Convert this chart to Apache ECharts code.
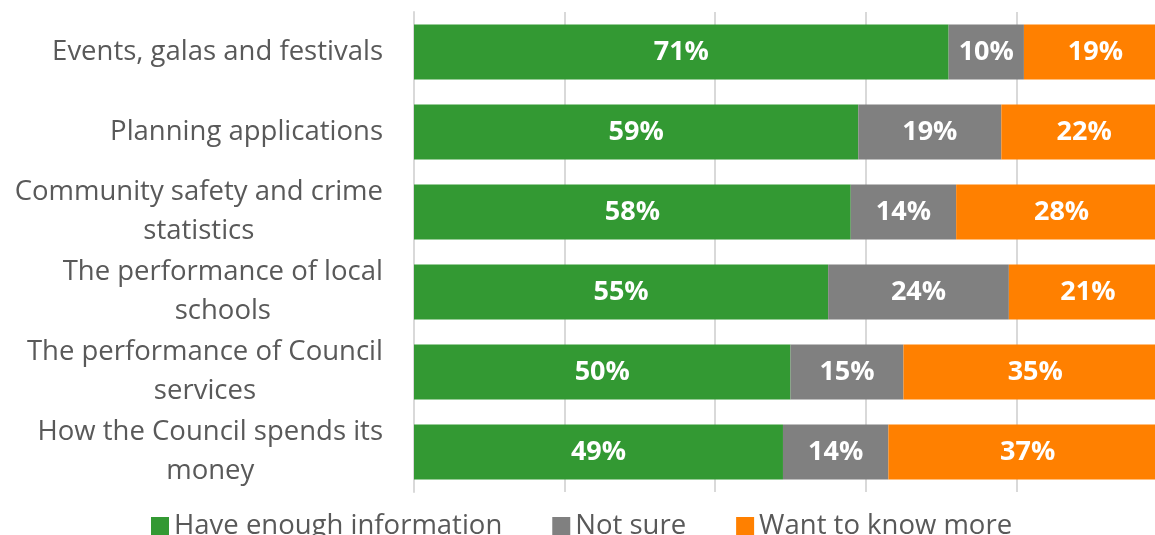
<!DOCTYPE html>
<html>
<head>
<meta charset="utf-8">
<script src="https://cdn.jsdelivr.net/npm/echarts@6/dist/echarts.min.js"></script>
<style>
  html, body { margin: 0; padding: 0; background: #ffffff; overflow: hidden; }
  #chart { width: 1180px; height: 535px; }
</style>
</head>
<body>
<div id="chart"></div>
<script>
// Survey topics, top to bottom
const categories = [
  'Events, galas and festivals',
  'Planning applications',
  'Community safety and crime\nstatistics',
  'The performance of local\nschools',
  'The performance of Council\nservices',
  'How the Council spends its\nmoney'
];
const seriesNames = ['Have enough information', 'Not sure', 'Want to know more'];
const haveEnough = [71, 59, 58, 55, 50, 49];
const notSure = [10, 19, 14, 24, 15, 14];
const wantMore = [19, 22, 28, 21, 35, 37];
const colors = ['#339933', '#808080', '#FF8000'];

const FONT = '"Open Sans", sans-serif';
const TEXT_SIZE = 27.5;

const chart = echarts.init(document.getElementById('chart'), null, { renderer: 'canvas' });

function barSeries(name, data, color) {
  return {
    name: name,
    type: 'bar',
    stack: 'total',
    barWidth: 55,
    data: data,
    itemStyle: { color: color },
    label: {
      show: true,
      position: 'inside',
      formatter: '{c}%',
      color: '#ffffff',
      fontFamily: FONT,
      fontWeight: 'bold',
      fontSize: 27
    }
  };
}

chart.setOption({
  animation: false,
  color: colors,
  grid: { left: 414, top: 12, width: 753, height: 480, containLabel: false },
  legend: {
    left: 146,
    top: 507,
    itemWidth: 18,
    itemHeight: 18,
    itemGap: 50,
    icon: 'rect',
    textStyle: { color: '#595959', fontFamily: FONT, fontSize: TEXT_SIZE },
    data: seriesNames
  },
  xAxis: {
    type: 'value',
    min: 0,
    max: 100,
    interval: 20,
    axisLine: { show: false },
    axisTick: { show: false },
    axisLabel: { show: false },
    splitLine: { show: true, lineStyle: { color: '#d9d9d9', width: 2 } }
  },
  yAxis: {
    type: 'category',
    inverse: true,
    data: categories,
    axisLine: { show: true, lineStyle: { color: '#d9d9d9', width: 2 } },
    axisTick: { show: false },
    axisLabel: {
      color: '#595959',
      fontFamily: FONT,
      fontSize: TEXT_SIZE,
      lineHeight: 39,
      align: 'right',
      margin: 31,
      // each wrapped line is centred under the longest one
      formatter: function (v) {
        return v.split('\n').map(function (s) { return '{c|' + s + '}'; }).join('\n');
      },
      rich: {
        c: { align: 'center', color: '#595959', fontFamily: FONT, fontSize: TEXT_SIZE, lineHeight: 39 }
      }
    }
  },
  series: [
    barSeries(seriesNames[0], haveEnough, colors[0]),
    barSeries(seriesNames[1], notSure, colors[1]),
    barSeries(seriesNames[2], wantMore, colors[2])
  ]
});
</script>
</body>
</html>
